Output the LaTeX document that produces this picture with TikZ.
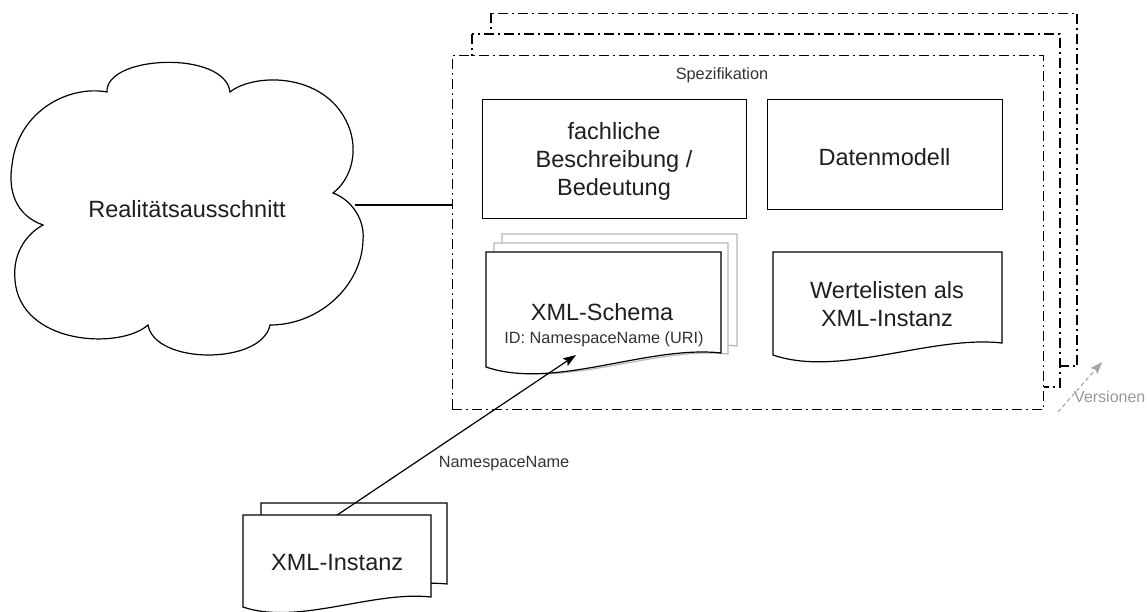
\documentclass[tikz,border=0pt]{standalone}
\usepackage{fontspec}
\setmainfont{Liberation Sans}
\usetikzlibrary{arrows.meta}

% #1 options, #2 x1, #3 top y, #4 x2, #5 right bottom y, #6 left bottom y
\newcommand{\docshape}[6]{\path[#1] (#2,#3) -- (#4,#3) -- (#4,#5)
  .. controls ({#4-0.31*(#4-#2)},{#5-0.035*(#4-#2)}) and ({#2+0.29*(#4-#2)},{#6+0.1*(#4-#2)}) .. (#2,#6) -- cycle;}

\begin{document}
\begin{tikzpicture}[x=1pt,y=-1pt,
  ddline/.style={draw=black, line width=1.2pt, dash pattern=on 10pt off 4pt on 2pt off 4pt, fill=white},
  boxline/.style={draw=black, line width=1.2pt, fill=white},
  ghost/.style={draw=black!28, line width=1.2pt, fill=white},
  big/.style={font=\fontsize{23.5}{28}\selectfont, text=black!88, inner sep=0pt, align=center},
  small/.style={font=\fontsize{16.3}{19}\selectfont, text=black!80, inner sep=0pt},
  grey label/.style={font=\fontsize{16}{19}\selectfont, text=black!40, inner sep=0pt},
  conn/.style={draw=black, line width=1.2pt},
  verconn/.style={draw=black!35, line width=1.1pt, dash pattern=on 4pt off 3pt},
]
\useasboundingbox (0,0) rectangle (1147,612);

% stacked specification versions
\draw[ddline] (491,13.5) rectangle (1077,366);
\draw[ddline] (472,34) rectangle (1060,387);
\node[ddline, minimum width=591.5pt, minimum height=354pt, anchor=north west, inner sep=0pt] (spec) at (451.5,55) {};
\node[small, anchor=base] (specT) at (722,80) {Spezifikation};

% cloud
\draw[boxline] (107,92) .. controls (105,55) and (225,50) .. (230,92)
 .. controls (255,72) and (330,72) .. (350,130)
 .. controls (358,155) and (350,180) .. (333,193)
 .. controls (352,200) and (365,220) .. (363,240)
 .. controls (362,285) and (320,325) .. (270,325)
 .. controls (262,365) and (155,365) .. (148,325)
 .. controls (120,350) and (20,345) .. (15,280)
 .. controls (12,250) and (30,232) .. (43,225)
 .. controls (15,215) and (8,190) .. (12,165)
 .. controls (18,110) and (70,85) .. (107,92) -- cycle;
\node[big, anchor=base] (real) at (187,217.5) {Realitätsausschnitt};
\coordinate (realE) at (355,205);
\draw[conn] (realE) -- (realE -| spec.west);

% boxes
\node[boxline, minimum width=264pt, minimum height=119pt, anchor=north west, inner sep=0pt] (fach) at (482,99) {};
\node[big, anchor=north] (fachT) at (614,122.2) {fachliche\\Beschreibung /\\Bedeutung};
\node[boxline, minimum width=235pt, minimum height=110pt, anchor=north west, inner sep=0pt] (daten) at (767,99) {};
\node[big, anchor=base] (datenT) at (884.5,166) {Datenmodell};

% Wertelisten document
\docshape{boxline}{773}{252}{1002}{343}{355}
\node[big, anchor=north] (werte) at (887,281.2) {Wertelisten als\\XML-Instanz};

% XML-Schema documents
\docshape{ghost}{502}{234}{737}{346}{360}
\docshape{ghost}{494}{243}{728}{354}{367}
\docshape{boxline}{486}{252}{721}{353}{367}
\node[big, anchor=base] (xs) at (602,320) {XML-Schema};
\node[small, anchor=base] (xsid) at (604,343) {ID: NamespaceName (URI)};
\coordinate (xstip) at (576,355);

% XML-Instanz documents
\docshape{boxline}{261}{503}{447}{584}{597}
\docshape{boxline}{243}{515}{431}{597}{607}
\node[big, minimum width=188pt, minimum height=95pt, anchor=north west] (xi) at (243,515) {XML-Instanz};

% connectors
\draw[conn, -{Stealth[length=13pt,width=9pt,inset=2.5pt]}] (xi.north) -- (xstip);
\node[small, anchor=base] (nsn) at (504,467) {NamespaceName};

% versions
\coordinate (v1) at (1058,412);
\coordinate (v2) at (1102,362);
\draw[verconn, -{Stealth[length=12pt,width=9pt,inset=2pt,fill=black!35]}] (v1) -- (v2);
\node[grey label, anchor=base west] (ver) at (1074,402) {Versionen};
\end{tikzpicture}
\end{document}
